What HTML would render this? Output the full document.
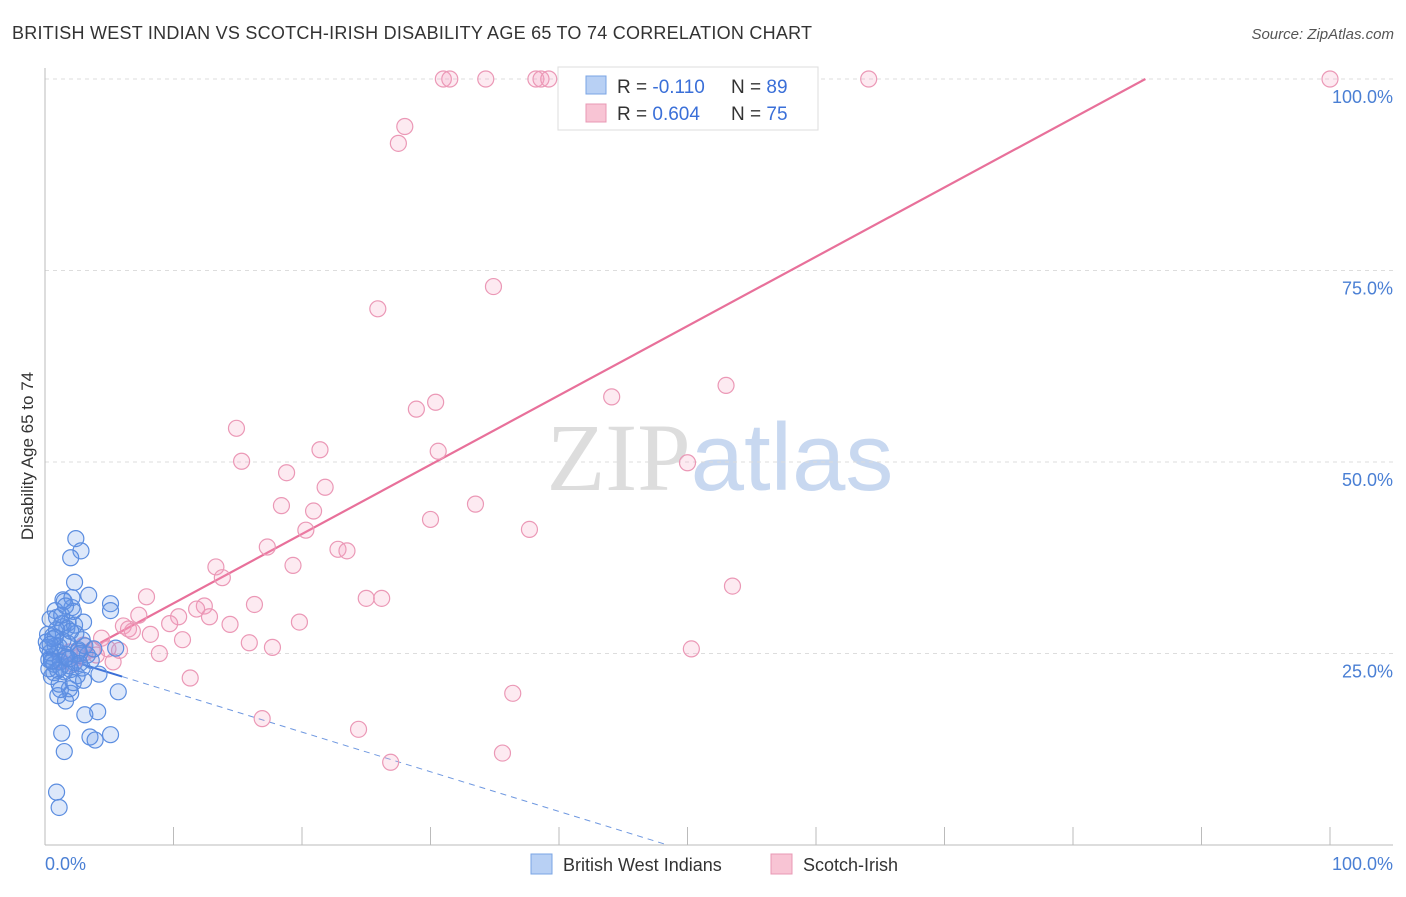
<!DOCTYPE html>
<html><head><meta charset="utf-8"><style>
body{margin:0;background:#fff;font-family:"Liberation Sans",sans-serif}
</style></head><body>
<svg id="chart" width="1406" height="892" xmlns="http://www.w3.org/2000/svg" font-family="Liberation Sans, sans-serif">
<text x="12" y="39" font-size="18" fill="#333" textLength="800">BRITISH WEST INDIAN VS SCOTCH-IRISH DISABILITY AGE 65 TO 74 CORRELATION CHART</text>
<text x="1394" y="39" font-size="15" fill="#555" text-anchor="end" font-style="italic">Source: ZipAtlas.com</text>
<text transform="translate(33,456) rotate(-90)" font-size="17" fill="#333" text-anchor="middle">Disability Age 65 to 74</text>
<text x="720" y="490" font-size="96" text-anchor="middle"><tspan fill="#ddd" font-family="Liberation Serif, serif">ZIP</tspan><tspan fill="#c8d8f0">atlas</tspan></text>
<g id="grid"></g><g id="axes"></g><g id="lines"></g><g id="pts"></g>
<g>
<rect x="558" y="67" width="260" height="63" fill="#fff" stroke="#ddd"/>
<rect x="586" y="76" width="20" height="18" fill="#b8d0f4" stroke="#7aa4e4"/>
<rect x="586" y="104" width="20" height="18" fill="#f8c4d4" stroke="#e898b4"/>
<text x="617" y="93" font-size="19" fill="#333">R = <tspan fill="#3a6fd8">-0.110</tspan></text>
<text x="731" y="93" font-size="19" fill="#333">N = <tspan fill="#3a6fd8">89</tspan></text>
<text x="617" y="120" font-size="19" fill="#333">R = <tspan fill="#3a6fd8">0.604</tspan></text>
<text x="731" y="120" font-size="19" fill="#333">N = <tspan fill="#3a6fd8">75</tspan></text>
</g>
<g>
<rect x="531" y="854" width="21" height="20" fill="#b8d0f4" stroke="#7aa4e4"/>
<text x="563" y="871" font-size="18" fill="#333">British West Indians</text>
<rect x="771" y="854" width="21" height="20" fill="#f8c4d4" stroke="#e898b4"/>
<text x="803" y="871" font-size="18" fill="#333">Scotch-Irish</text>
</g>
</svg>
<script>
const yTicks=[25,50,75,100];
const yTickLabels=["25.0%","50.0%","75.0%","100.0%"];
const xTicks=[0,10,20,30,40,50,60,70,80,90,100];
const pinkX=[31,31.5,34.3,38.2,38.6,39.2,64.1,100,28,27.5,34.9,25.9,53,44.1,30.4,28.9,14.9,21.4,30.6,15.3,50,18.8,21.8,18.4,33.5,20.9,20.3,30,37.7,17.3,22.8,23.5,19.3,13.3,13.8,53.5,7.9,25,26.2,16.3,12.4,11.8,10.4,7.3,12.8,9.7,19.8,14.4,6.1,6.5,6.8,8.2,10.7,4.4,15.9,17.7,50.3,8.9,3.1,4.9,3.7,2.6,5.3,11.3,36.4,16.9,24.4,35.6,26.9,1.9,1.2,2.2,4.0,3.0,5.8];
const pinkY=[100,100,100,100,100,100,100,100,93.8,91.6,72.9,70,60,58.5,57.8,56.9,54.4,51.6,51.4,50.1,49.9,48.6,46.7,44.3,44.5,43.6,41.1,42.5,41.2,38.9,38.6,38.4,36.5,36.3,34.9,33.8,32.4,32.2,32.2,31.4,31.2,30.8,29.8,30,29.8,28.9,29.1,28.8,28.6,28.2,27.9,27.5,26.8,27,26.4,25.8,25.6,25,25.1,25.6,25.5,24.5,23.9,21.8,19.8,16.5,15.1,12.0,10.8,25.2,24.1,23.6,24.8,26.1,25.4];
const blueX=[2.4,2.8,2,2.3,3.4,5.1,5.1,2.1,0.8,1.4,5.5,5.7,4.1,5.1,3.5,3.9,1.3,3.1,1.5,1.1,0.9,2.0,1.9,1.6,3.0,0.5,0.7,1.0,1.2,2.5,0.3,0.6,1.8,2.2,0.4,1.7,2.9,0.2,1.4,2.6,3.3,0.8,1.0,1.6,2.3,0.1,0.5,1.2,1.9,2.7,0.6,1.3,0.9,1.5,2.1,3.0,1.1,0.3,1.8,2.4,0.7,1.6,2.0,4.2,3.6,2.2,1.4,0.9,0.4,1.2,2.6,1.7,0.8,1.5,2.9,3.1,0.2,0.6,1.9,2.3,1.0,1.3,0.5,1.1,3.8,2.7,1.6,0.4,2.0];
const blueY=[40,38.4,37.5,34.3,32.6,31.5,30.6,31,30.6,32,25.7,20,17.4,14.4,14.1,13.7,14.6,17,12.2,4.9,6.9,19.8,20.4,18.8,21.5,22,22.5,19.5,20.3,22.1,23,24,29,30.5,29.5,28.3,26.8,27.5,28.5,25.5,24.8,26,25.2,24.4,23.8,26.5,24.6,23.2,23.4,25,27.3,28.9,29.7,31.8,32.3,29.1,25.9,24.2,26.3,27.6,23.6,24.9,22.9,22.3,24.1,21.2,26.7,28.1,25.1,23.9,25.3,24.5,27.1,22.6,23.1,26.0,25.8,26.9,24.3,28.7,22.8,30.0,24.0,21.0,25.6,23.7,31.2,26.2,27.9];
const pinkLine=[22.5,113];
const blueLine=[25.1,-0.518];
const X=v=>45+v*12.85, Y=v=>845-v*7.66;
const NS="http://www.w3.org/2000/svg";
function mk(p,t,a){const e=document.createElementNS(NS,t);for(const k in a)e.setAttribute(k,a[k]);document.getElementById(p).appendChild(e);return e;}
yTicks.forEach((t,i)=>{
 const l=mk('grid','line',{x1:45,x2:1393,y1:Y(t),y2:Y(t),stroke:'#ddd','stroke-dasharray':'4,4'});
 
 
 const tx=mk('grid','text',{x:1393,y:Y(t)+24,'font-size':18,fill:'#4a7fd4','text-anchor':'end'});tx.textContent=yTickLabels[i];
 
 
});
let a=mk('axes','line',{x1:45,x2:45,y1:68,y2:845,stroke:'#bbb'});


a=mk('axes','line',{x1:45,x2:1393,y1:845,y2:845,stroke:'#bbb'});


xTicks.forEach(t=>{const l=mk('axes','line',{x1:X(t),x2:X(t),y1:827,y2:845,stroke:'#bbb'});
 
 });
let t1=mk('axes','text',{x:45,y:870,'font-size':18,fill:'#4a7fd4'});t1.textContent='0.0%';


t1=mk('axes','text',{x:1393,y:870,'font-size':18,fill:'#4a7fd4','text-anchor':'end'});t1.textContent='100.0%';


pinkX.forEach((x,i)=>{const c=mk('pts','circle',{cx:X(x),cy:Y(pinkY[i]),r:8,fill:'rgba(244,160,190,0.22)',stroke:'#eb98b6','stroke-width':1.2});
 
 });
blueX.forEach((x,i)=>{const c=mk('pts','circle',{cx:X(x),cy:Y(blueY[i]),r:8,fill:'rgba(100,150,230,0.22)',stroke:'#5b8de0','stroke-width':1.2});
 
 });
const px2=(100-pinkLine[0])/(pinkLine[1]-pinkLine[0])*100;
let ln=mk('lines','line',{x1:X(4.3),y1:Y(pinkLine[0]+(pinkLine[1]-pinkLine[0])*0.043),x2:X(px2),y2:Y(100),stroke:'#e8709a','stroke-width':2.2});


ln=mk('lines','line',{x1:X(0),y1:Y(blueLine[0]),x2:X(6),y2:Y(blueLine[0]+blueLine[1]*6),stroke:'#3a6fd8','stroke-width':2});


const bz=-blueLine[0]/blueLine[1];
ln=mk('lines','line',{x1:X(6),y1:Y(blueLine[0]+blueLine[1]*6),x2:X(bz),y2:Y(0),stroke:'#6f98e0','stroke-width':1,'stroke-dasharray':'6,5'});


</script>
</body></html>
